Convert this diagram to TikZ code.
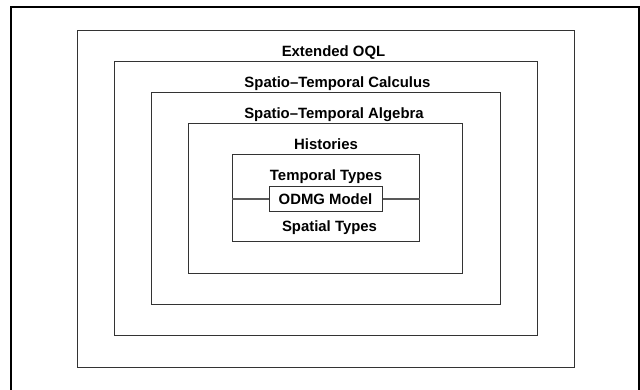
\documentclass[tikz,border=0pt]{standalone}
\usepackage{fontspec}
\setmainfont{Liberation Sans}
\tikzset{
  shellbox/.style={draw=black!80, line width=1pt, inner sep=0pt},
  shelltext/.style={anchor=base, inner sep=0pt},
  wire/.style={draw=black!65, line width=1.6pt},
  font=\fontsize{14.9pt}{18pt}\selectfont\bfseries
}

\begin{document}
\begin{tikzpicture}[x=1pt, y=-1pt]
  \useasboundingbox (0,0) rectangle (640,390);
  % frame of the page, cut at the bottom
  \draw[line width=2pt] (11,400) -- (11,7) -- (639,7) -- (639,400);

  \node[shellbox, minimum width=497pt, minimum height=336pt] (oql) at (325.5,199) {};
  \node[shellbox, minimum width=423pt, minimum height=273pt] (calc) at (325.5,198.5) {};
  \node[shellbox, minimum width=349pt, minimum height=211pt] (alg) at (325.5,198.5) {};
  \node[shellbox, minimum width=274pt, minimum height=149pt] (hist) at (325.5,198.5) {};
  \node[shellbox, minimum width=187pt, minimum height=87pt] (types) at (325.5,198.5) {};
  \node[shellbox, minimum width=113pt, minimum height=25pt] (odmg) at (325.5,199) {ODMG Model};

  \node[shelltext] (oqltext) at ([xshift=8pt, yshift=-26pt]oql.north) {Extended OQL};
  \node[shelltext] (calctext) at ([xshift=12pt, yshift=-26pt]calc.north) {Spatio--Temporal Calculus};
  \node[shelltext] (algtext) at ([xshift=8.5pt, yshift=-26pt]alg.north) {Spatio--Temporal Algebra};
  \node[shelltext] (histtext) at ([xshift=0.5pt, yshift=-26pt]hist.north) {Histories};
  \node[shelltext] (temptext) at ([xshift=0.5pt, yshift=-26pt]types.north) {Temporal Types};
  \node[shelltext] (spattext) at ([xshift=4pt, yshift=-20pt]odmg.south) {Spatial Types};

  \draw[wire] (types.west |- odmg.west) -- (odmg.west);
  \draw[wire] (odmg.east) -- (types.east |- odmg.east);
\end{tikzpicture}
\end{document}
